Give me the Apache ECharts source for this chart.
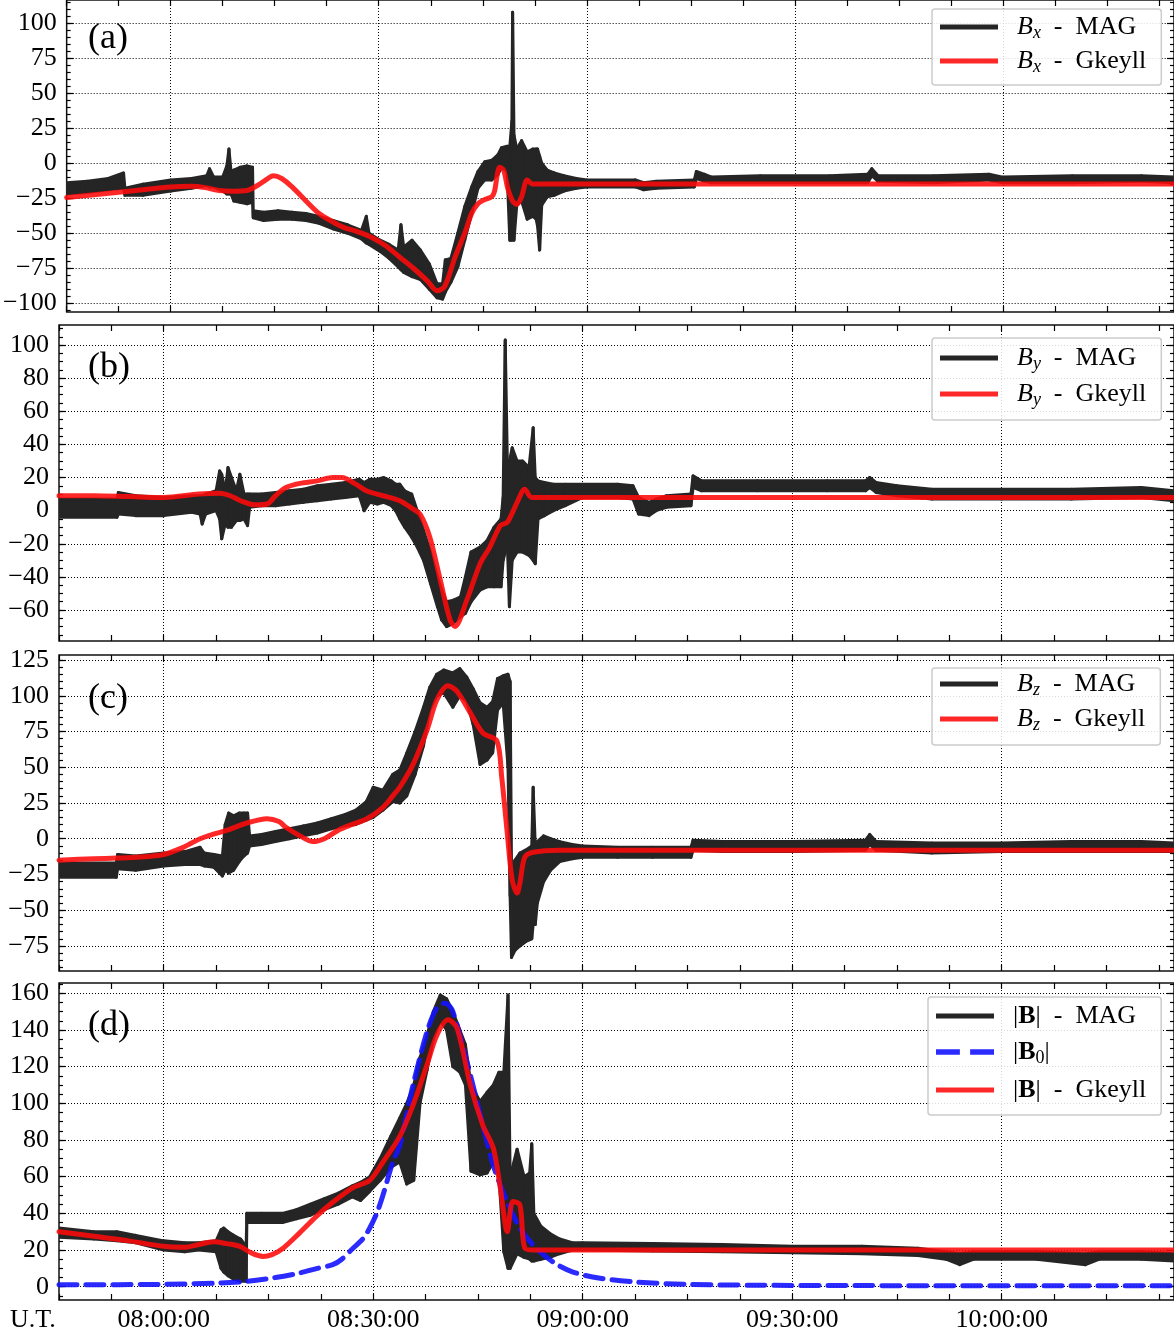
<!DOCTYPE html>
<html>
<head>
<meta charset="utf-8">
<title>MAG vs Gkeyll</title>
<script src="https://cdn.jsdelivr.net/npm/echarts@6.0.0/dist/echarts.min.js"></script>
<style>
html,body{margin:0;padding:0;background:#fff;}
#chart{width:1174px;height:1336px;}
</style>
</head>
<body>
<div id="chart"></div>
<script>
// time is in minutes of the day (07:45:00 = 465)
var xMajor = [480, 510, 540, 570, 600];
var timeLabels = ['08:00:00', '08:30:00', '09:00:00', '09:30:00', '10:00:00'];

var yMajorA = [-100, -75, -50, -25, 0, 25, 50, 75, 100];
var yMajorB = [-60, -40, -20, 0, 20, 40, 60, 80, 100];
var yMajorC = [-75, -50, -25, 0, 25, 50, 75, 100, 125];
var yMajorD = [0, 20, 40, 60, 80, 100, 120, 140, 160];

// MAG data is noisy: kept as [time, low edge, high edge] of the trace
/***
 * (a) Bx
 */
var bxMag = [[465,-22,-14],[468,-21,-13],[471,-19,-11],[473.2,-18,-7],[473.4,-23,-18],[476,-23,-15],[480,-20,-12],[483,-18,-11],[485.2,-16,-9],[485.6,-17,-4],[486.2,-17,-10],[487.5,-20,-10],[488.1,-22,-2],[488.4,-22,10],[488.7,-22,-6],[489.1,-27,-5],[490,-28,-3],[491,-29,-2],[491.8,-28,-3],[491.9,-39,-34],[493.4,-41,-35],[495.5,-40,-34],[497.5,-40,-35],[499.5,-41,-36],[501.4,-43,-38],[503.5,-47,-41],[505.5,-50,-44],[507.5,-54,-48],[508.2,-57,-38],[508.6,-58,-50],[510.2,-63,-55],[511.5,-68,-58],[512.8,-74,-62],[513.2,-76,-44],[513.6,-78,-60],[514.8,-81,-55],[516,-83,-62],[517.3,-90,-72],[518.4,-96,-86],[519.2,-97,-86],[519.6,-92,-69],[520.4,-85,-68],[521.4,-74,-50],[522.4,-55,-31],[523.4,-36,-17],[524.3,-18,-6],[525.3,-12,1],[526.3,-12,2],[527.2,-8,6],[527.7,-3,11],[528.5,-6,12],[528.9,-55,12],[529.2,-55,30],[529.3,-50,107.5],[529.5,-55,20],[529.9,-30,10],[530.6,-27,16],[531.4,-40,8],[532.2,-38,10],[532.7,-40,10],[532.9,-45,10],[533.2,-62,5],[533.5,-30,0],[534.3,-24,-5],[535.3,-23,-7],[536.7,-20,-9],[538.5,-18,-11],[540,-17,-12],[547,-17,-12],[548.2,-19,-14],[550,-18,-13],[555.5,-17,-12],[555.8,-11,-6],[557,-13,-8],[558,-14,-10],[565,-14,-9],[575,-14,-9],[580.5,-14,-8],[581.1,-9,-4],[582,-13,-9],[590,-14,-9],[598,-12,-8],[600,-14,-10],[610,-14,-9],[620,-13,-9],[624.7,-14,-10]];
var bxGk = [[465,-24.5],[470,-22],[475,-19.5],[480,-17],[483,-16.5],[485,-17.5],[487,-19.5],[489,-20],[491,-19.5],[492.5,-16],[494,-11],[494.8,-9],[496,-11],[497.5,-17],[499.5,-27],[501.4,-36],[503.4,-42],[505,-46],[507,-49],[509,-53],[511,-59],[513,-67],[515,-75],[517,-84],[518.4,-91],[519.5,-88],[521,-67],[522.4,-50],[523.4,-36],[524.3,-29],[525.3,-26],[526.3,-24],[526.7,-20],[527.1,-8],[527.4,-3],[528,-5],[528.6,-18],[529.3,-27],[529.9,-29.5],[530.6,-24],[531.4,-12],[532.2,-15],[624.7,-15]];

/***
 * (b) By
 */
var byMag = [[465,-4,7],[473.3,-4,7],[473.5,-2,11],[476,-3,9],[480,-3,8],[484,-1,9],[485.2,-2,9],[485.5,-8,9],[486,-2,10],[487.5,0,12],[488,-5,24],[488.3,-17,22],[488.8,-8,12],[489.2,-10,26],[489.7,-10,20],[490.4,-6,12],[490.9,-6,22],[491.5,-5,10],[492,-9,10],[492.3,2,10],[494,3,10],[496,3,11],[498,4,12],[500,5,13],[502,6,15],[504,7,16],[506,8,17],[508,9,19],[508.7,0,17],[509.5,5,19],[510.6,4,19],[511.5,5,20],[512.6,3,18],[513.2,0,16],[513.8,-5,16],[514.5,-10,12],[515.5,-16,10],[516.3,-22,0],[517.2,-30,-12],[518.2,-44,-25],[519.2,-58,-40],[519.8,-66,-48],[520.5,-70,-55],[521.5,-68,-54],[522.5,-64,-52],[523.2,-62,-40],[524,-55,-25],[525.3,-48,-22],[526.3,-46,-18],[527.3,-46,-10],[528.3,-46,-5],[528.6,-30,8],[528.9,-25,103],[529.2,-20,30],[529.5,-58,30],[529.9,-30,38],[530.6,-25,30],[531.4,-25,30],[532.3,-27,26],[532.9,-30,50],[533.2,-32,20],[533.6,-5,18],[534.5,-3,17],[535.8,0,16],[537.5,3,16],[540,8,16],[545,8,16],[547.2,7,15],[548,-2,8],[549.5,-3,5],[550.5,0,7],[552,2,9],[555.5,3,10],[555.8,14,21],[557,12,18],[565,12,18],[575,12,18],[580.5,12,18],[581.1,14,20],[582,11,17],[585,9,15],[590,7,13],[600,7,13],[610,7,13],[620,8,14],[624.7,6,12]];
var byGk = [[465,9],[470,9],[475,8.5],[480,8],[485,10],[488,10.5],[489.5,9],[491,6],[493,3.5],[494.8,4],[496,9],[497.5,14],[499.5,16.5],[502,18],[504.2,20],[505.5,20],[507.5,16],[509,12],[511.4,9],[513.8,6],[515.7,1],[516.7,-2],[518.1,-16],[519.6,-42],[521,-66],[521.7,-70],[523.4,-54],[525.3,-32],[526.7,-22],[528.2,-9],[529.2,-7],[530.6,5],[531.7,13],[532.7,8],[624.7,8]];

/***
 * (c) Bz
 */
var bzMag = [[465,-27,-17],[473.2,-27,-17],[473.4,-21,-11],[476,-22,-12],[480,-19,-10],[483,-18,-9],[485.2,-18,-6],[485.8,-19,-10],[487.2,-20,-11],[488.4,-26,-12],[488.8,-22,10],[489.3,-24,18],[490,-22,16],[490.8,-16,18],[491.5,-12,18],[492,-10,18],[492.3,-5,2],[494,-4,3],[496,-2,5],[498,0,7],[500,2,9],[502,4,11],[504,7,14],[506,9,17],[507.5,10,20],[509,13,26],[510,15,36],[511.4,20,34],[512.8,26,45],[513.8,25,48],[514.8,30,60],[516,45,75],[517.2,65,92],[518.1,90,106],[519.1,100,115],[520.1,102,118],[521.4,92,116],[522.4,100,119],[523.4,96,113],[524.3,80,105],[525.3,52,95],[526.3,55,92],[527.1,60,96],[527.8,90,112],[528.6,95,114],[529.3,50,115],[529.6,-40,110],[529.8,-83,-20],[530.3,-78,-15],[531,-75,-10],[531.8,-72,-8],[532.7,-70,-5],[532.9,-60,36],[533.2,-60,-5],[533.5,-45,-2],[534.4,-30,2],[535.4,-22,0],[536.7,-16,-2],[538.5,-14,-4],[540,-13,-5],[545,-13,-6],[550,-13,-6],[555.5,-13,-6],[555.8,-8,-1],[560,-9,-2],[570,-9,-2],[580.5,-8,-1],[581.1,-4,3],[582,-8,-2],[590,-10,-3],[600,-9,-3],[610,-9,-2],[620,-9,-2],[624.7,-9,-3]];
var bzGk = [[465,-15],[470,-14],[473.3,-13.5],[476,-13],[480,-11],[482.8,-6],[484,-3],[485.2,0],[487,3],[489.1,6],[491.9,11],[494.8,14],[496.5,12],[497.5,8],[499.5,2],[501.4,-2],[503,0],[505,6],[507,10],[509.1,14],[511.4,22],[512.8,30],[513.8,36],[515.7,52],[517.7,76],[519.1,97],[520.7,107],[522,103],[523.9,88],[525.7,74],[527.7,68.5],[528.4,43],[529.2,3.5],[529.9,-29],[530.6,-38],[531,-31],[531.7,-13],[532.9,-9.5],[536.7,-8],[624.7,-8]];

/***
 * (d) |B|
 */
var bMag = [[465,27,32],[470,26,30],[473.3,25,30],[476,24,28],[480,20,25],[483,19,24],[485,20,24],[487.5,19,25],[488.2,10,31],[488.6,8,32],[489.2,6,30],[490,4,28],[491,3,26],[491.8,3,22],[491.9,35,40],[494,35,40],[497,35,40],[499,37,42],[501,39,45],[503,42,48],[505,45,51],[507,49,55],[508.2,47,57],[509.5,52,60],[511,58,70],[512.5,65,82],[513.8,68,92],[514.8,56,100],[515.8,58,110],[516.7,100,125],[517.7,118,137],[518.6,135,150],[519.6,145,159],[520.5,140,157],[521.4,120,150],[522.4,117,140],[523.2,110,132],[524,63,110],[525.3,61,101],[526.3,62,106],[527.2,68,110],[528,60,117],[528.7,19,117],[529.3,10,159],[529.6,10,60],[530.6,18,75],[531.6,16,60],[532.4,15,62],[532.7,14,78],[533,14,40],[534,15,33],[535.3,16,29],[536.7,18,26],[538.5,20,24],[540,20,24],[550,19.5,23.5],[560,19,23],[570,18.5,22],[580,18,22],[588,17,21],[592,15,19],[594,12,18],[596,15,19],[605,15,19],[612,12,18],[614,15,19],[620,15,19],[624.7,14,18]];
var b0 = [[465,1],[480,1.3],[488,2],[492,3],[496,5],[499.5,7.5],[502,10],[504.2,12],[505.5,15],[507.1,21],[508.5,26],[509.5,32],[510.5,40],[511.4,50],[512.8,68],[513.8,77],[515.7,110],[517.7,139],[519.1,152],[520.3,154.6],[521.4,150],[523.9,115.6],[525.7,88],[527.2,66],[529.2,46],[531,32],[532.9,22.7],[535.7,13.6],[538.6,8],[542.5,4.6],[547.2,2.7],[554.4,1.3],[565,0.8],[580,0.6],[624.7,0.5]];
var bGk = [[465,30],[470,27.5],[475,25],[480,22],[483,21.5],[485,23],[487.1,24.5],[489,23.5],[490.9,22],[492.5,18.5],[494.2,16.5],[495.5,17.5],[497.1,21],[499.5,29.5],[501.9,38.5],[504.2,46],[507.1,54],[509.5,58],[511.4,68],[513.8,82],[515.7,99],[517.7,121],[519.1,137],[520.7,145.5],[522,141],[523.9,110],[525.7,88],[527.2,75.5],[528.2,53.7],[529.2,30],[530,46.4],[531,44.6],[531.7,21],[533,20],[624.7,20]];

var SERIF = '"Liberation Serif", "Times New Roman", serif';
var X_MIN = 465, X_MAX = 624.67;
var GRID_LEFT = 59, GRID_WIDTH = 1115;
var BLACK = '#252525', RED = 'rgba(255,10,10,0.88)', BLUE = 'rgba(20,20,255,0.9)';
var ICON_BAR = 'path://M0 0H58V5H0Z';
var ICON_DASH = 'path://M0 0H21V5H0Z M30 0H51V5H30Z';

var chart = echarts.init(document.getElementById('chart'));

function steps(min, max, step){
	var out = [];
	var v = Math.ceil(min / step) * step;
	for (; v <= max + 1e-9; v += step) out.push(Math.round(v * 100) / 100);
	return out;
}
var xTicks = steps(X_MIN, X_MAX, 7.5);

function fmtTime(v){
	var i = xMajor.indexOf(v);
	return i < 0 ? '' : timeLabels[i];
}
function fmtNum(v){
	return v < 0 ? '\u2212' + Math.abs(v) : String(v);
}

var PANELS = [
	{top: -2, height: 314, min: -106.2, max: 116.3, major: yMajorA, tag: '(a)', tagY: 39,
	 legend: {left: 932, top: 9, padding: [5, 15, 9, 8], gap: 6},
	 names: [{name: 'Bx - MAG', icon: ICON_BAR}, {name: 'Bx - Gkeyll', icon: ICON_BAR}]},
	{top: 325, height: 316, min: -78.7, max: 112.1, major: yMajorB, tag: '(b)', tagY: 368,
	 legend: {left: 932, top: 338, padding: [7, 15, 11, 8], gap: 8},
	 names: [{name: 'By - MAG', icon: ICON_BAR}, {name: 'By - Gkeyll', icon: ICON_BAR}]},
	{top: 655, height: 316, min: -92.5, max: 128.5, major: yMajorC, tag: '(c)', tagY: 699,
	 legend: {left: 932, top: 668, padding: [3, 15, 11, 8], gap: 7},
	 names: [{name: 'Bz - MAG', icon: ICON_BAR}, {name: 'Bz - Gkeyll', icon: ICON_BAR}]},
	{top: 983, height: 317, min: -7.25, max: 165.6, major: yMajorD, tag: '(d)', tagY: 1026,
	 legend: {left: 928, top: 997, padding: [6, 15, 12, 8], gap: 10},
	 names: [{name: '|B| - MAG', icon: ICON_BAR}, {name: '|B0|', icon: ICON_DASH}, {name: '|B| - Gkeyll', icon: ICON_BAR}]}
];

var legendText = {
	'Bx - MAG': '{it|B}{sub|x}{n|  -  MAG}',
	'Bx - Gkeyll': '{it|B}{sub|x}{n|  -  Gkeyll}',
	'By - MAG': '{it|B}{sub|y}{n|  -  MAG}',
	'By - Gkeyll': '{it|B}{sub|y}{n|  -  Gkeyll}',
	'Bz - MAG': '{it|B}{sub|z}{n|  -  MAG}',
	'Bz - Gkeyll': '{it|B}{sub|z}{n|  -  Gkeyll}',
	'|B| - MAG': '{n||}{bf|B}{n||  -  MAG}',
	'|B0|': '{n||}{bf|B}{subr|0}{n||}',
	'|B| - Gkeyll': '{n||}{bf|B}{n||  -  Gkeyll}'
};
var legendRich = {
	it: {fontFamily: SERIF, fontStyle: 'italic', fontSize: 26, lineHeight: 30, color: '#000'},
	sub: {fontFamily: SERIF, fontStyle: 'italic', fontSize: 18, lineHeight: 18, verticalAlign: 'bottom', color: '#000'},
	subr: {fontFamily: SERIF, fontSize: 18, lineHeight: 18, verticalAlign: 'bottom', color: '#000'},
	bf: {fontFamily: SERIF, fontWeight: 'bold', fontSize: 26, lineHeight: 30, color: '#000'},
	n: {fontFamily: SERIF, fontSize: 26, lineHeight: 30, color: '#000'}
};

var grids = [], xAxes = [], yAxes = [], legends = [], graphics = [];

function xAxis(gi, pos, ticks, len, showLabel, dotted){
	return {
		gridIndex: gi, type: 'value', min: X_MIN, max: X_MAX, position: pos,
		axisLine: {show: false, onZero: false},
		axisTick: {show: true, inside: true, length: len, customValues: ticks,
			lineStyle: dotted ? {color: '#000', width: 1, type: [1, 2]} : {color: '#000', width: 1.2}},
		axisLabel: {show: showLabel, customValues: xMajor, formatter: fmtTime, fontFamily: SERIF,
			fontSize: 26, color: '#000', margin: 7},
		splitLine: {show: false}
	};
}
function yAxis(gi, p, pos, ticks, len, showLabel, dotted){
	return {
		gridIndex: gi, type: 'value', min: p.min, max: p.max, position: pos,
		axisLine: {show: false, onZero: false},
		axisTick: {show: true, inside: true, length: len, customValues: ticks,
			lineStyle: dotted ? {color: '#000', width: 1, type: [1, 2]} : {color: '#000', width: 1.2}},
		axisLabel: {show: showLabel, customValues: p.major, formatter: fmtNum, fontFamily: SERIF,
			fontSize: 26, color: '#000', margin: 10},
		splitLine: {show: false}
	};
}

PANELS.forEach(function(p, i){
	grids.push({left: GRID_LEFT, width: GRID_WIDTH, top: p.top, height: p.height, show: true,
		borderColor: '#111', borderWidth: 1.5, backgroundColor: 'transparent'});
	var minor = steps(p.min, p.max, 5);
	xAxes.push(xAxis(i, 'bottom', xTicks, 6, i === 3, false));
	xAxes.push(xAxis(i, 'top', xTicks, 6, false, false));
	xAxes.push(xAxis(i, 'bottom', xMajor, p.height, false, true));
	yAxes.push(yAxis(i, p, 'left', p.major, 7, true, false));
	yAxes.push(yAxis(i, p, 'left', minor, 4, false, false));
	yAxes.push(yAxis(i, p, 'right', p.major, 7, false, false));
	yAxes.push(yAxis(i, p, 'right', minor, 4, false, false));
	yAxes.push(yAxis(i, p, 'left', p.major, GRID_WIDTH, false, true));
	legends.push({
		orient: 'vertical', left: p.legend.left, top: p.legend.top, padding: p.legend.padding,
		itemGap: p.legend.gap, itemWidth: 58, itemHeight: 14, data: p.names,
		selectedMode: false, backgroundColor: 'rgba(255,255,255,0.85)',
		borderColor: '#cccccc', borderWidth: 1.5, borderRadius: 3,
		formatter: function(name){ return legendText[name]; },
		textStyle: {rich: legendRich, padding: [0, 0, 0, 14]}
	});
	graphics.push({type: 'text', x: 88, y: p.tagY,
		style: {text: p.tag, font: '36px ' + SERIF, fill: '#000', verticalAlign: 'middle'}});
});
graphics.push({type: 'text', x: 10, y: 1320,
	style: {text: 'U.T.', font: '26px ' + SERIF, fill: '#000', verticalAlign: 'middle'}});

function line(name, data, pi, color, width, dash, smooth){
	return {
		type: 'line', name: name, data: data, xAxisIndex: pi * 3, yAxisIndex: pi * 5,
		symbol: 'none', showSymbol: false, smooth: smooth || false, animation: false,
		lineStyle: {color: color, width: width, type: dash || 'solid', cap: 'round', join: 'round'},
		itemStyle: {color: color}
	};
}
// noisy MAG trace: filled between its low and high edge, one quad per step
function band(name, data, pi){
	return {
		type: 'custom', name: name, data: data, xAxisIndex: pi * 3, yAxisIndex: pi * 5,
		encode: {x: 0, y: [1, 2]}, clip: true, animation: false,
		itemStyle: {color: BLACK},
		renderItem: function(params, api){
			var k = params.dataIndex;
			if (k >= data.length - 1) return;
			var a = data[k], b = data[k + 1];
			var pts = [api.coord([a[0], a[1]]), api.coord([b[0], b[1]]),
				api.coord([b[0], b[2]]), api.coord([a[0], a[2]])];
			return {type: 'polygon', shape: {points: pts},
				style: {fill: BLACK, stroke: BLACK, lineWidth: 3, lineJoin: 'round'}};
		}
	};
}

var series = [
	band('Bx - MAG', bxMag, 0),
	line('Bx - Gkeyll', bxGk, 0, RED, 5, null, 0.3),
	band('By - MAG', byMag, 1),
	line('By - Gkeyll', byGk, 1, RED, 5, null, 0.3),
	band('Bz - MAG', bzMag, 2),
	line('Bz - Gkeyll', bzGk, 2, RED, 5, null, 0.3),
	band('|B| - MAG', bMag, 3),
	line('|B0|', b0, 3, BLUE, 5, [18, 9], 0.3),
	line('|B| - Gkeyll', bGk, 3, RED, 5, null, 0.3)
];

chart.setOption({
	animation: false,
	backgroundColor: '#fff',
	grid: grids,
	xAxis: xAxes,
	yAxis: yAxes,
	legend: legends,
	graphic: graphics,
	series: series
});
</script>
</body>
</html>
